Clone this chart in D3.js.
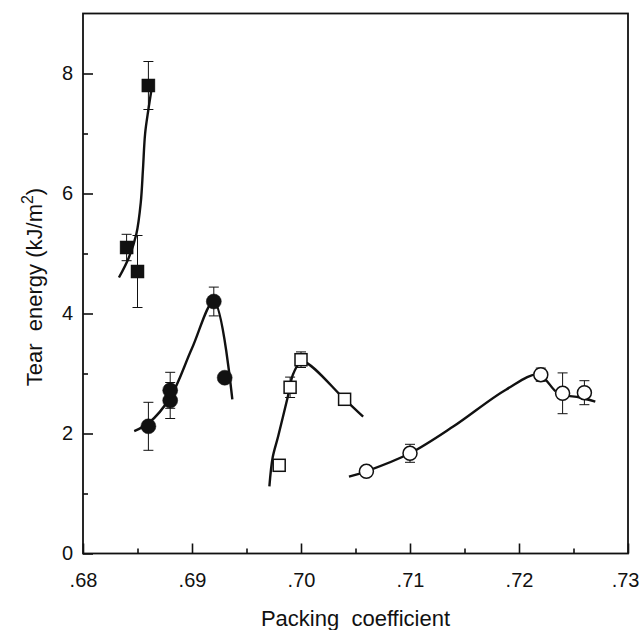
<!DOCTYPE html>
<html>
<head>
<meta charset="utf-8">
<script src="https://cdn.jsdelivr.net/npm/d3@7"></script>
<style>
  body { margin: 0; background: #fff; }
  svg { font-family: 'Liberation Sans', Arial, sans-serif; }
</style>
</head>
<body>
<div id="chart"></div>
<script>
// filled squares
const fsX = [0.684, 0.685, 0.686]
const fsY = [5.1, 4.7, 7.8]
const fsErr = [0.22, 0.6, 0.4]
const fsCurve = [[0.6833, 4.6], [0.6842, 4.93], [0.6849, 5.33], [0.6853, 5.85], [0.6855, 6.4], [0.6857, 7.0], [0.6860, 7.4], [0.6863, 7.75]]

// filled circles
const fcX = [0.686, 0.688, 0.688, 0.692, 0.693]
const fcY = [2.12, 2.55, 2.72, 4.2, 2.93]
const fcErr = [0.4, 0.3, 0.3, 0.24, 0]
const fcCurve = [[0.6847, 2.04], [0.686, 2.17], [0.688, 2.6], [0.690, 3.42], [0.692, 4.2], [0.6937, 2.57]]

// open squares
const osX = [0.698, 0.699, 0.700, 0.704]
const osY = [1.47, 2.77, 3.23, 2.57]
const osErr = [0, 0.17, 0.13, 0]
const osCurve = [[0.6971, 1.12], [0.6974, 1.6], [0.6979, 1.95], [0.6988, 2.62], [0.6993, 3.0], [0.7001, 3.2], [0.704, 2.57], [0.7057, 2.28]]

// open circles
const ocX = [0.706, 0.710, 0.722, 0.724, 0.726]
const ocY = [1.37, 1.67, 2.98, 2.67, 2.68]
const ocErr = [0, 0.15, 0.11, 0.34, 0.2]
const ocCurve = [[0.7044, 1.28], [0.706, 1.37], [0.710, 1.67], [0.714, 2.12], [0.7188, 2.73], [0.7218, 2.98], [0.7236, 2.67], [0.7256, 2.6], [0.7270, 2.53]]

const xMajor = [0.68, 0.69, 0.70, 0.71, 0.72, 0.73]
const xMinor = [0.685, 0.695, 0.705, 0.715, 0.725]
const yMajor = [0, 2, 4, 6, 8]
const yMinor = [1, 3, 5, 7]

const W = 640, H = 630
const svg = d3.select('#chart').append('svg').attr('width', W).attr('height', H)

const x = d3.scaleLinear().domain([0.68, 0.73]).range([83, 628])
const y = d3.scaleLinear().domain([0, 9]).range([553.5, 13.5])

// frame
svg.append('rect')
  .attr('x', x(0.68)).attr('y', y(9))
  .attr('width', x(0.73) - x(0.68)).attr('height', y(0) - y(9))
  .attr('fill', 'none').attr('stroke', '#111').attr('stroke-width', 1.8)

// axes
let xAx = svg.append('g').attr('transform', `translate(0,${y(0)})`)
  .call(d3.axisBottom(x).tickValues(xMajor).tickSize(-10).tickPadding(19)
    .tickFormat(d => d3.format('.2f')(d).replace(/^0/, '')))
let xMin = svg.append('g').attr('transform', `translate(0,${y(0)})`)
  .call(d3.axisBottom(x).tickValues(xMinor).tickSize(-5).tickFormat(''))
let yAx = svg.append('g').attr('transform', `translate(${x(0.68)},0)`)
  .call(d3.axisLeft(y).tickValues(yMajor).tickSize(-10).tickPadding(10).tickFormat(d3.format('d')))
let yMin = svg.append('g').attr('transform', `translate(${x(0.68)},0)`)
  .call(d3.axisLeft(y).tickValues(yMinor).tickSize(-5).tickFormat(''))

;[xAx, xMin, yAx, yMin].forEach(a => {
  a.select('.domain').remove()
  a.selectAll('line').attr('stroke', '#111').attr('stroke-width', 1.6)
  a.selectAll('text').attr('font-size', 20).attr('fill', '#111')
    .attr('font-family', "'Liberation Sans', Arial, sans-serif")
})
// last x label sits at the right edge, keep it inside
xAx.selectAll('.tick').filter(d => d === 0.73).select('text')
  .attr('text-anchor', 'end').attr('x', 11)

// axis titles
svg.append('text').text('Packing  coefficient')
  .style('white-space', 'pre')
  .attr('x', (x(0.68) + x(0.73)) / 2).attr('y', 626)
  .attr('text-anchor', 'middle').attr('font-size', 22).attr('fill', '#111')

let yt = svg.append('text')
  .style('white-space', 'pre')
  .attr('transform', 'translate(42,287) rotate(-90)')
  .attr('text-anchor', 'middle').attr('font-size', 22).attr('fill', '#111')
yt.append('tspan').text('Tear  energy (kJ/m')
yt.append('tspan').text('2').attr('font-size', 16).attr('dy', -9)
yt.append('tspan').text(')').attr('dy', 9)

const line = d3.line().x(d => x(d[0])).y(d => y(d[1])).curve(d3.curveCatmullRom.alpha(0.5))

function zip (xs, ys, es) { return xs.map((v, i) => ({ x: v, y: ys[i], e: es[i] })) }

const groups = [
  { pts: zip(fsX, fsY, fsErr), curve: fsCurve, shape: 'square', fill: '#111' },
  { pts: zip(fcX, fcY, fcErr), curve: fcCurve, shape: 'circle', fill: '#111' },
  { pts: zip(osX, osY, osErr), curve: osCurve, shape: 'square', fill: '#fff' },
  { pts: zip(ocX, ocY, ocErr), curve: ocCurve, shape: 'circle', fill: '#fff' }
]

let plot = svg.append('g')

// error bars
groups.forEach(g => {
  let eb = plot.append('g').attr('stroke', '#111').attr('stroke-width', 1)
  g.pts.filter(d => d.e > 0).forEach(d => {
    let cx = x(d.x), y1 = y(d.y + d.e), y2 = y(d.y - d.e)
    eb.append('line').attr('x1', cx).attr('x2', cx).attr('y1', y1).attr('y2', y2)
    eb.append('line').attr('x1', cx - 5).attr('x2', cx + 5).attr('y1', y1).attr('y2', y1)
    eb.append('line').attr('x1', cx - 5).attr('x2', cx + 5).attr('y1', y2).attr('y2', y2)
  })
})

// curves
groups.forEach(g => {
  plot.append('path').attr('d', line(g.curve))
    .attr('fill', 'none').attr('stroke', '#111').attr('stroke-width', 2.4)
})

// markers
groups.forEach(g => {
  let open = g.fill === '#fff'
  let sel = plot.append('g').selectAll('.m').data(g.pts).enter()
  if (g.shape === 'square') {
    let s = open ? 12 : 13
    sel.append('rect')
      .attr('x', d => x(d.x) - s / 2).attr('y', d => y(d.y) - s / 2)
      .attr('width', s).attr('height', s)
      .attr('fill', g.fill).attr('stroke', '#111').attr('stroke-width', open ? 1.5 : 0.5)
  } else {
    sel.append('circle')
      .attr('cx', d => x(d.x)).attr('cy', d => y(d.y))
      .attr('r', open ? 7 : 7.5)
      .attr('fill', g.fill).attr('stroke', '#111').attr('stroke-width', open ? 1.5 : 0.5)
  }
})
</script>
</body>
</html>
